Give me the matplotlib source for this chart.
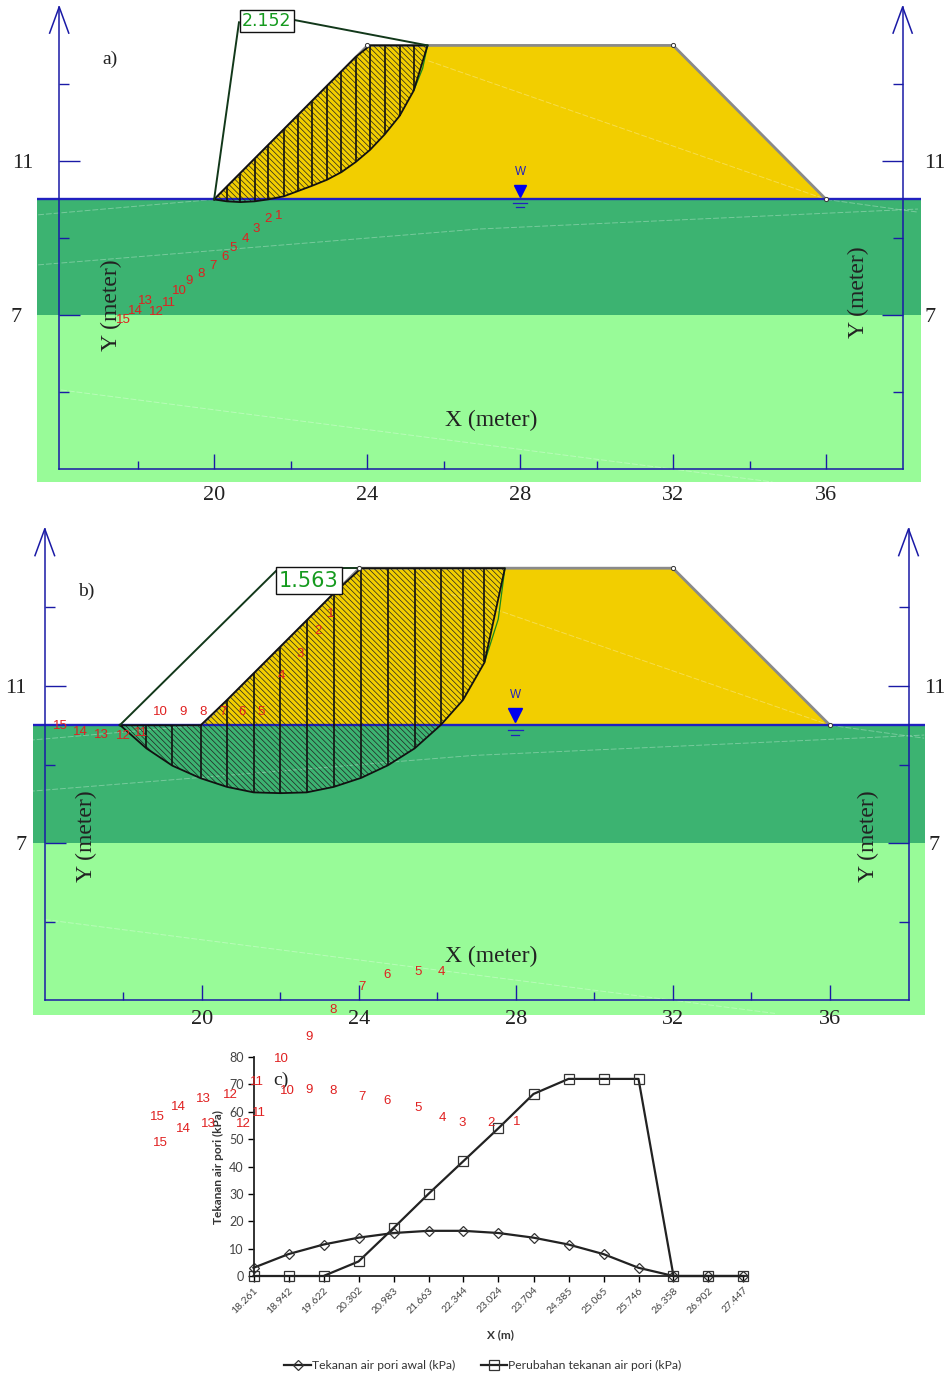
import numpy as np
import matplotlib
matplotlib.use('Agg')
import matplotlib.pyplot as plt

W, H = 949, 1376

# embankment geometry (meter)
bank_x = [20, 24, 32, 36]
bank_y = [10, 14, 14, 10]

# slip surface a)
slip_a_x = [20.0, 20.33, 20.69, 21.06, 21.41, 21.82, 22.20, 22.55, 22.95, 23.33, 23.70, 24.08, 24.46, 24.85, 25.22, 25.58]
slip_a_y = [10.0, 9.95, 9.93, 9.95, 10.0, 10.08, 10.22, 10.35, 10.51, 10.71, 10.97, 11.29, 11.69, 12.17, 12.83, 14.0]
arc_a_x = [25.22, 25.45, 25.58]
arc_a_y = [12.83, 13.4, 14.0]
fos_a = '2.152'

# slip surface b)
slip_b_x = [17.91, 18.59, 19.25, 19.97, 20.64, 21.32, 22.0, 22.67, 23.36, 24.06, 24.74, 25.42, 26.09, 26.65, 27.2, 27.72]
slip_b_y = [10.01, 9.41, 8.97, 8.65, 8.43, 8.29, 8.27, 8.29, 8.43, 8.66, 8.98, 9.41, 10.01, 10.64, 11.60, 14.0]
arc_b_x = [27.2, 27.55, 27.72]
arc_b_y = [11.60, 12.7, 14.0]
fos_b = '1.563'

# slice numbers in a)
num_a_x = [21.69, 21.41, 21.09, 20.81, 20.49, 20.29, 19.97, 19.66, 19.35, 19.09, 18.83, 18.49, 18.21, 17.95, 17.63]
num_a_y = [9.57, 9.49, 9.23, 8.97, 8.74, 8.51, 8.27, 8.06, 7.88, 7.62, 7.31, 7.08, 7.36, 7.10, 6.87]

# slice numbers in b)
num_b_x = [23.29, 22.95, 22.50, 22.02, 21.51, 21.03, 20.53, 20.03, 19.51, 18.94, 18.45, 17.99, 17.43, 16.91, 16.39]
num_b_y = [12.83, 12.40, 11.82, 11.25, 10.34, 10.34, 10.34, 10.34, 10.34, 10.34, 9.80, 9.73, 9.75, 9.83, 9.98]

# stray slice numbers around c), read on the axes of c)
stray_1_lab = ['4', '5', '6', '7', '8', '9', '10', '11', '12', '13', '14', '15']
stray_1_x = [5.36, 4.70, 3.81, 3.10, 2.27, 1.59, 0.81, 0.10, -0.67, -1.44, -2.16, -2.76]
stray_1_y = [110.9, 110.9, 109.9, 105.5, 97.1, 87.2, 79.2, 70.8, 66.0, 64.6, 61.7, 58.0]
stray_2_lab = ['1', '2', '3', '4', '5', '6', '7', '8', '9', '10', '11', '12', '13', '14', '15']
stray_2_x = [7.53, 6.79, 5.96, 5.39, 4.70, 3.81, 3.10, 2.27, 1.59, 0.96, 0.16, -0.30, -1.30, -1.99, -2.67]
stray_2_y = [56.2, 55.8, 55.8, 57.7, 61.3, 63.9, 65.5, 67.4, 68.1, 67.7, 59.7, 55.6, 55.6, 53.8, 48.7]

# chart c)
x_labels = ['18.261', '18.942', '19.622', '20.302', '20.983', '21.663', '22.344', '23.024',
            '23.704', '24.385', '25.065', '25.746', '26.358', '26.902', '27.447']
tekanan_awal = [3, 8, 11.5, 14, 15.7, 16.5, 16.5, 15.7, 14, 11.5, 8, 3, 0, 0, 0]
perubahan = [0, 0, 0, 5.3, 17.5, 30, 42, 54, 66.5, 72, 72, 72, 0, 0, 0]

YELLOW = '#F2CE00'
DARK_G = '#3CB371'
LIGHT_G = '#98FB98'
BLUE = '#1A1AA6'
RED = '#E02020'

plt.rcParams['font.family'] = ['Liberation Serif', 'DejaVu Serif']
plt.rcParams['hatch.linewidth'] = 0.5


def box(left, top, right, bottom):
    return [left / W, 1 - bottom / H, (right - left) / W, (bottom - top) / H]


def panel(rect, xlim, ylim, axis_left, slip_x, slip_y, arc_x, arc_y, nx, ny, fos, fos_xy, fos_size, fos_pad,
          left_line, right_line, tick_pad):
    ax = fig.add_axes(box(*rect))
    ax.set_xlim(xlim)
    ax.set_ylim(ylim)
    ax.patch.set_visible(False)

    ax.axhspan(ylim[0], 7, xmin=0, xmax=1, color=LIGHT_G, lw=0, zorder=0)
    ax.axhspan(7, 10, xmin=0, xmax=1, color=DARK_G, lw=0, zorder=0)
    ax.fill(bank_x, bank_y, color=YELLOW, lw=0, zorder=0.5)
    ax.plot(bank_x[1:], bank_y[1:], color='#8a8a8a', lw=2, zorder=1)
    ax.plot(bank_x[:2], bank_y[:2], color='#8a8a8a', lw=1.5, zorder=1)

    # thin layer traces
    for lx, ly in [([15.4, 20], [9.6, 10]), ([15.4, 26.9, 38.4], [8.3, 9.23, 9.75]),
                   ([36, 38.4], [10, 9.67]), ([16, 34.6], [5.05, 2.66]), ([25.6, 36], [13.6, 10])]:
        ax.plot(lx, ly, color='white', lw=0.7, ls=(0, (6, 2)), alpha=0.3, zorder=1)

    ax.plot(xlim, [10, 10], color='#2020C0', lw=1.7, zorder=1.5)

    # slip mass with slices
    sx = np.array(slip_x)
    sy = np.array(slip_y)
    top = np.clip(sx - 10, 10, 14)
    ax.fill(np.r_[sx, sx[::-1]], np.r_[sy, top[::-1]], facecolor='none', edgecolor='#222222',
            hatch='\\' * 6, lw=0, zorder=2)
    ax.plot(np.r_[sx, sx[::-1]], np.r_[sy, top[::-1]], color='#111111', lw=1.3, zorder=2.2)
    ax.vlines(sx[1:-1], sy[1:-1], top[1:-1], color='#111111', lw=1.2, zorder=2.2)
    ax.plot(arc_x, arc_y, color='#1a8a1a', lw=0.9, zorder=2.1)

    ax.plot(bank_x[1:], bank_y[1:], ls='none', marker='o', ms=3, mfc='white', mec='#333333', mew=0.7, zorder=2.4)

    # factor of safety box with its leader lines
    ax.plot(left_line[0], left_line[1], color='#12381a', lw=1.4, zorder=2.3)
    ax.plot(right_line[0], right_line[1], color='#12381a', lw=1.4, zorder=2.3)
    ax.text(fos_xy[0], fos_xy[1], fos, family='DejaVu Sans', fontsize=fos_size, color='#159a1e',
            ha='center', va='center', zorder=4,
            bbox=dict(boxstyle='square,pad=' + str(fos_pad), fc='white', ec='#111111', lw=1))

    # blue axes
    ax.spines['top'].set_visible(False)
    ax.spines['left'].set_position(('data', axis_left))
    ax.spines['right'].set_position(('data', 38))
    ax.spines['bottom'].set_position(('data', 3))
    ax.spines['left'].set_bounds(3, 15)
    ax.spines['right'].set_bounds(3, 15)
    ax.spines['bottom'].set_bounds(axis_left, 38)
    for s in ['left', 'right', 'bottom']:
        ax.spines[s].set_color(BLUE)
        ax.spines[s].set_linewidth(1.1)
    ax.set_xticks([20, 24, 28, 32, 36])
    ax.set_xticks([18, 22, 26, 30, 34], minor=True)
    ax.set_yticks([7, 11], labels=['', ''])
    ax.set_yticks([5, 9, 13], minor=True)
    ax.tick_params(axis='x', which='major', direction='in', length=11, width=1, color=BLUE,
                   labelsize=16, pad=tick_pad, labelcolor='#222222')
    ax.tick_params(axis='x', which='minor', direction='in', length=5.5, width=1, color=BLUE)
    ax.tick_params(axis='y', which='major', direction='in', length=15, width=1, color=BLUE, left=True, right=True)
    ax.tick_params(axis='y', which='minor', direction='in', length=7, width=1, color=BLUE, left=True, right=True)
    for xa in [axis_left, 38]:
        ax.plot([xa - 0.25, xa, xa + 0.25], [14.32, 15, 14.32], color=BLUE, lw=1.1, clip_on=False, zorder=3)

    for i in range(len(nx)):
        ax.text(nx[i], ny[i], str(i + 1), family='Liberation Sans', fontsize=9.5, color=RED,
                ha='center', va='center', zorder=5)
    return ax


def water(ax, x0, wy, tri_y, l1, l2, ms):
    ax.text(x0, wy, 'W', family='Liberation Sans', fontsize=8.5, color='#2020C0', ha='center', va='center')
    ax.plot([x0], [tri_y], marker='v', ms=ms, color='#0000EE', ls='none', zorder=3)
    ax.plot([x0 - 0.19, x0 + 0.19], [l1, l1], color='#2020C0', lw=0.9)
    ax.plot([x0 - 0.11, x0 + 0.11], [l2, l2], color='#2020C0', lw=0.9)


def words(ax, items, size):
    for t, x, y, rot in items:
        ax.text(x, y, t, fontsize=size, color='#222222', ha='center', va='center', rotation=rot, zorder=4)


fig = plt.figure(figsize=(W / 100, H / 100), dpi=100)

# a)
ax_a = panel((37, 5, 921, 482), (15.37, 38.48), (2.66, 15.05), 15.95, slip_a_x, slip_a_y, arc_a_x, arc_a_y,
             num_a_x, num_a_y, fos_a, (21.38, 14.64), 12.5, 0.12,
             ([20, 20.65], [10, 14.6]), ([22.1, 25.58], [14.66, 14]), 12.5)
water(ax_a, 28.0, 10.71, 10.22, 9.9, 9.8, 8)
words(ax_a, [('11', 15.0, 10.93, 0), ('7', 14.82, 6.93, 0), ('11', 38.85, 10.93, 0), ('7', 38.72, 6.93, 0)], 16)
words(ax_a, [('X (meter)', 27.24, 4.27, 0), ('Y (meter)', 17.32, 7.25, 90), ('Y (meter)', 36.85, 7.6, 90)], 17)
words(ax_a, [('a)', 17.27, 13.65, 0)], 14)

# b)
ax_b = panel((33, 525, 925, 1015), (15.70, 38.42), (2.62, 15.10), 16, slip_b_x, slip_b_y, arc_b_x, arc_b_y,
             num_b_x, num_b_y, fos_b, (22.73, 13.68), 15, 0.16,
             ([17.91, 21.92], [10, 13.96]), ([23.3, 24], [14, 14]), 7)
water(ax_b, 27.98, 10.77, 10.26, 9.88, 9.76, 10)
words(ax_b, [('11', 15.27, 10.93, 0), ('7', 15.40, 6.93, 0), ('11', 38.66, 10.93, 0), ('7', 38.66, 6.93, 0)], 16)
words(ax_b, [('X (meter)', 27.37, 4.12, 0), ('Y (meter)', 17.05, 7.18, 90), ('Y (meter)', 36.98, 7.18, 90)], 17)
words(ax_b, [('b)', 17.05, 13.4, 0)], 14)

# c)
ax_c = fig.add_axes(box(253.5, 1057, 747, 1276))
ax_c.patch.set_visible(False)
idx = np.arange(len(x_labels))
ax_c.plot(idx, tekanan_awal, color='#222222', lw=1.6, marker='D', ms=5, mfc='none', mec='#333333', mew=0.9,
          clip_on=False, label='Tekanan air pori awal (kPa)')
ax_c.plot(idx, perubahan, color='#222222', lw=1.6, marker='s', ms=7, mfc='none', mec='#333333', mew=0.9,
          clip_on=False, label='Perubahan tekanan air pori (kPa)')
ax_c.set_xlim(0, 14.1)
ax_c.set_ylim(0, 80)
ax_c.set_yticks(np.arange(0, 90, 10))
ax_c.set_xticks(idx, labels=x_labels, rotation=45, ha='right', rotation_mode='anchor')
ax_c.tick_params(axis='x', length=4, width=1, labelsize=7.5, labelcolor='#444444', pad=3)
ax_c.tick_params(axis='y', length=4, width=1, labelsize=9, labelcolor='#444444', pad=3)
for lab in ax_c.get_xticklabels() + ax_c.get_yticklabels():
    lab.set_family('Lato')
for s in ['top', 'right']:
    ax_c.spines[s].set_visible(False)
for s in ['left', 'bottom']:
    ax_c.spines[s].set_linewidth(1.3)
    ax_c.spines[s].set_color('#222222')
ax_c.set_xlabel('X (m)', family='Lato', fontsize=8.5, fontweight='bold', color='#333333', labelpad=10)
ax_c.set_ylabel('Tekanan air pori (kPa)', family='Lato', fontsize=8.6, fontweight='bold', color='#333333', labelpad=4)
leg = ax_c.legend(loc='center', bbox_to_anchor=(0.465, -0.41), ncol=2, frameon=False,
                  prop={'family': 'Lato', 'size': 8.7}, columnspacing=2.1, handlelength=2.2, handletextpad=0.1)
for t in leg.get_texts():
    t.set_color('#333333')
ax_c.text(0.79, 71.5, 'c)', fontsize=14, color='#222222', ha='center', va='center')

for lab, xs, ys in zip(stray_1_lab, stray_1_x, stray_1_y):
    ax_c.text(xs, ys, lab, family='Liberation Sans', fontsize=9.5, color=RED, ha='center', va='center', zorder=6)
for lab, xs, ys in zip(stray_2_lab, stray_2_x, stray_2_y):
    ax_c.text(xs, ys, lab, family='Liberation Sans', fontsize=9.5, color=RED, ha='center', va='center', zorder=6)

fig.savefig('out.png', dpi=100)
